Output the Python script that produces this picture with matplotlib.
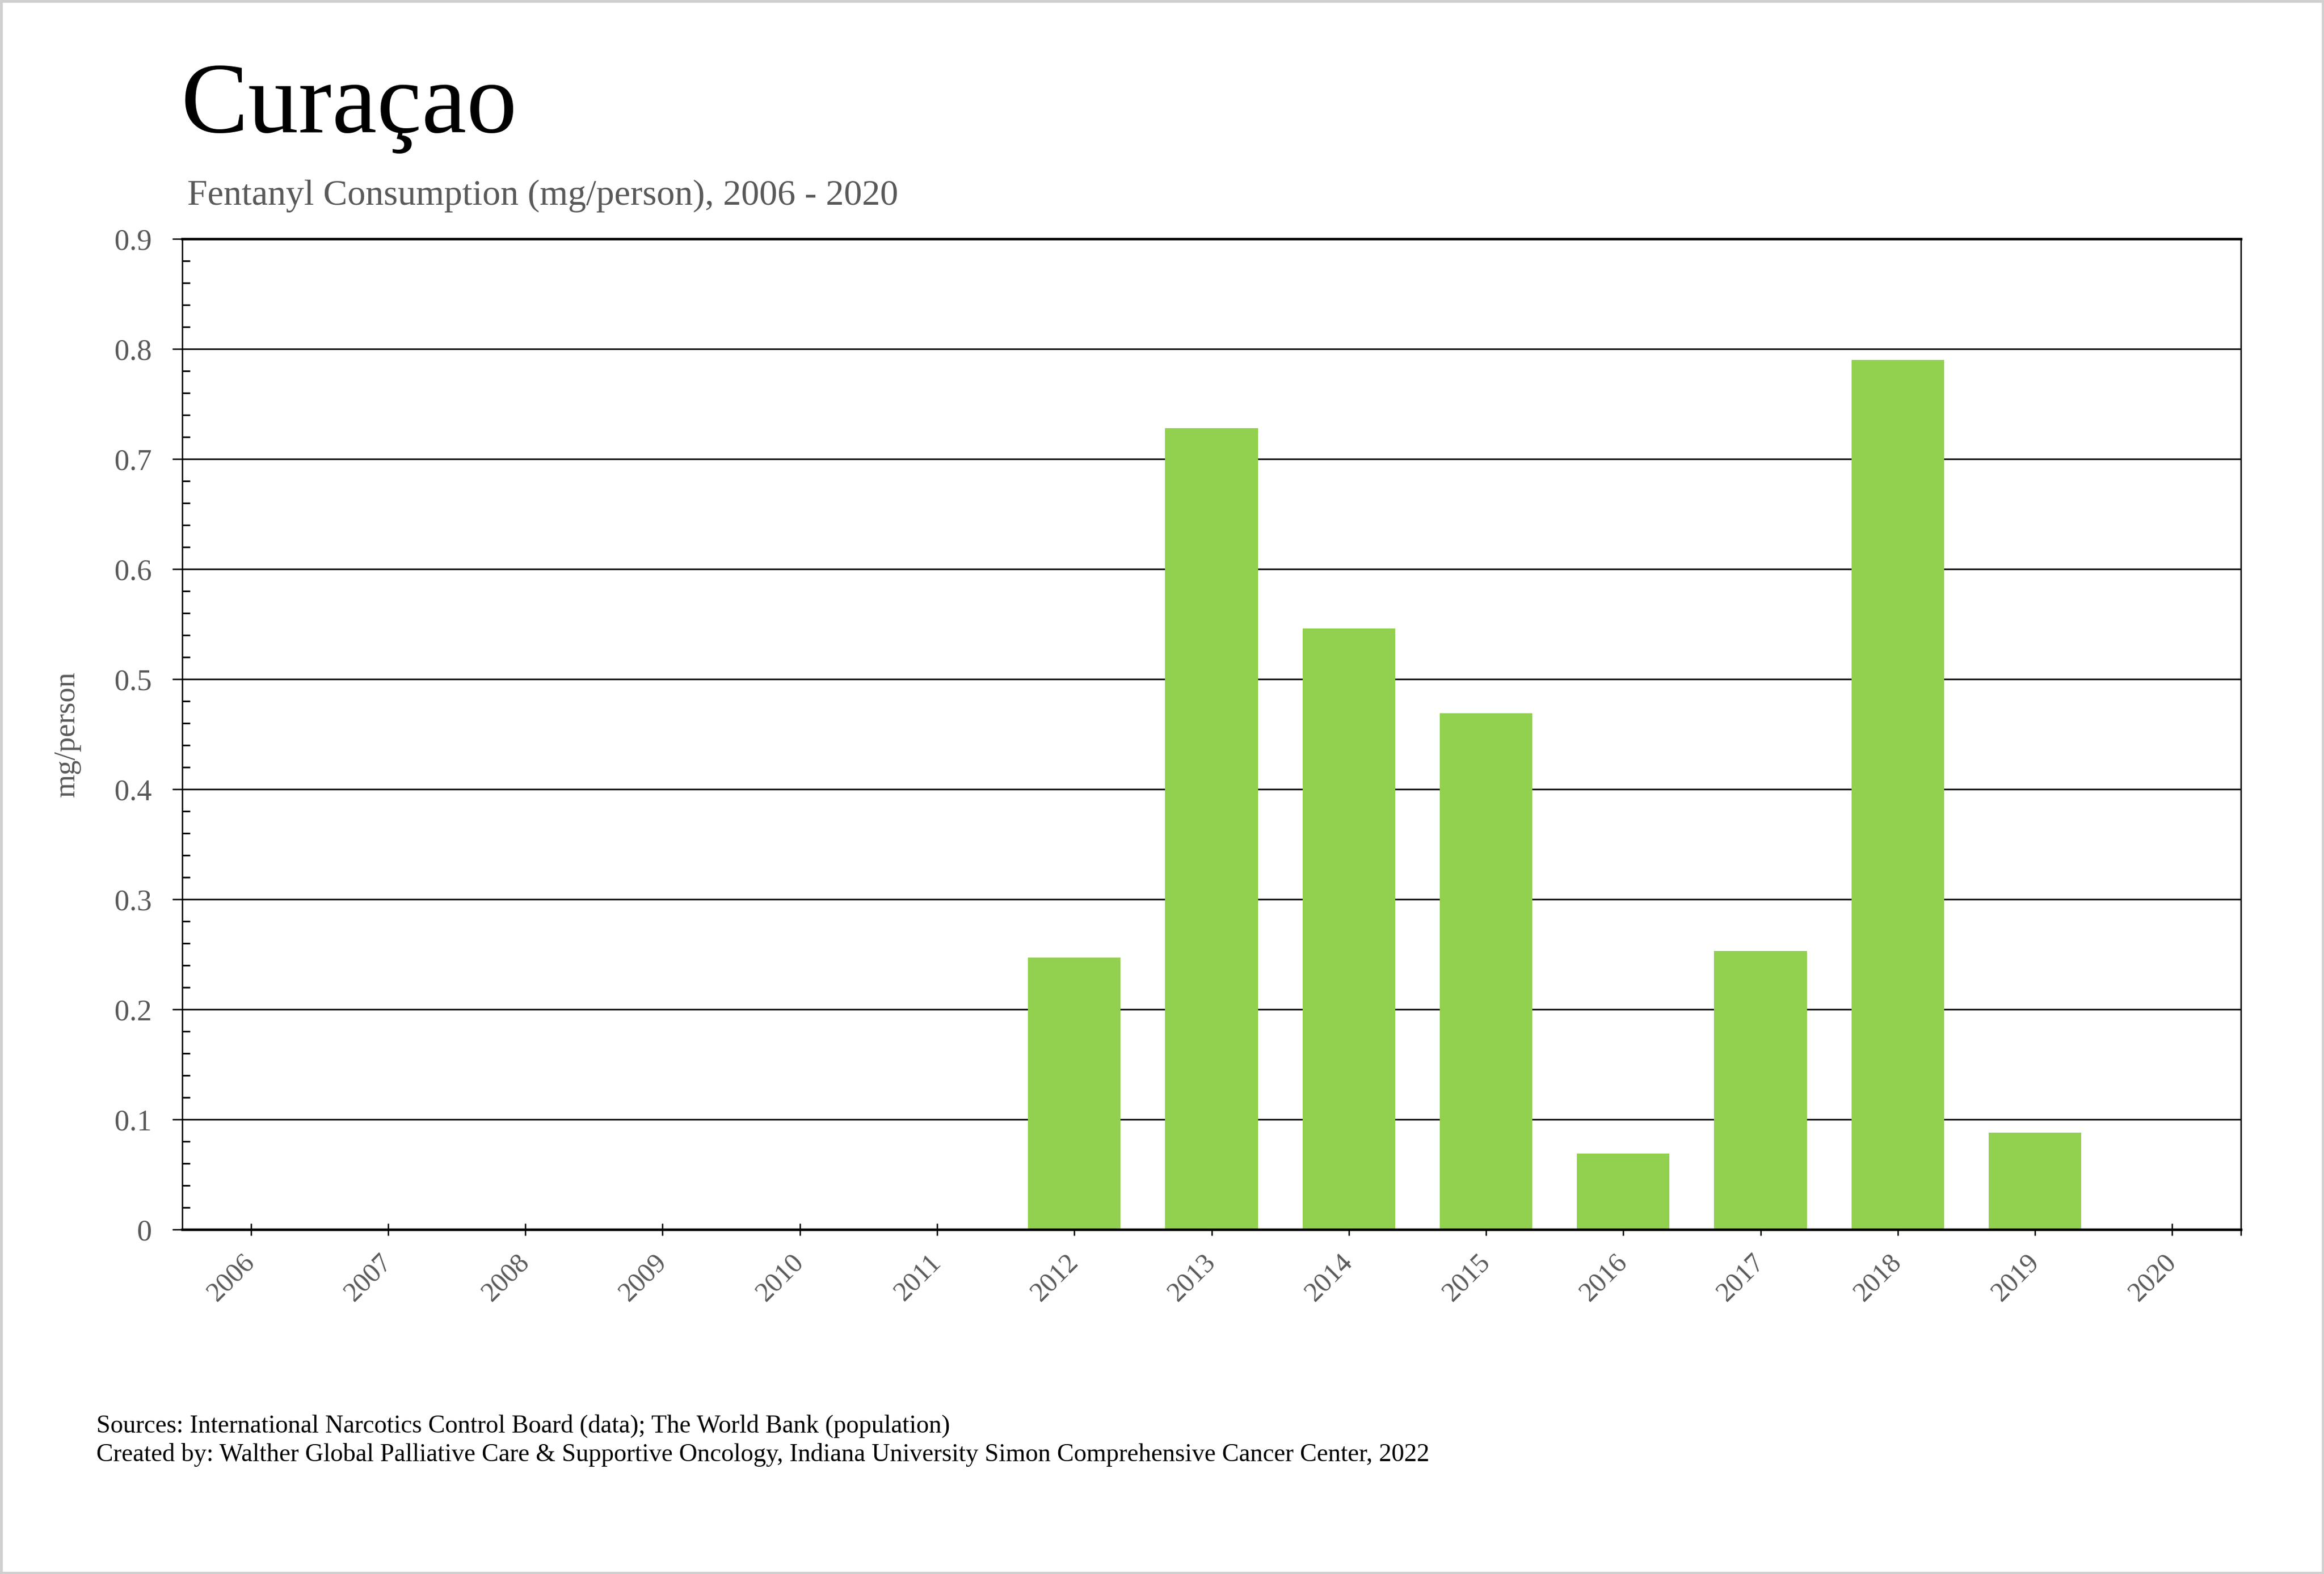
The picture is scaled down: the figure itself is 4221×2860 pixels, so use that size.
import numpy as np
import matplotlib
matplotlib.use("Agg")
import matplotlib.pyplot as plt
import matplotlib.patches as patches
from matplotlib import rcParams

rcParams['font.family'] = ['Liberation Serif', 'DejaVu Serif']

# data
years = ["2006", "2007", "2008", "2009", "2010", "2011", "2012", "2013",
         "2014", "2015", "2016", "2017", "2018", "2019", "2020"]
consumption = [0, 0, 0, 0, 0, 0, 0.247, 0.728, 0.546, 0.469, 0.069, 0.253, 0.790, 0.088, 0]
y_ticks = [0, 0.1, 0.2, 0.3, 0.4, 0.5, 0.6, 0.7, 0.8, 0.9]
y_tick_labels = ["0", "0.1", "0.2", "0.3", "0.4", "0.5", "0.6", "0.7", "0.8", "0.9"]

title = "Curaçao"
subtitle = "Fentanyl Consumption (mg/person), 2006 - 2020"
y_title = "mg/person"
footer = ["Sources: International Narcotics Control Board (data); The World Bank (population)",
          "Created by: Walther Global Palliative Care & Supportive Oncology, Indiana University Simon Comprehensive Cancer Center, 2022"]

W, H = 4221, 2860
DPI = 300
grey = '#595959'

fig = plt.figure(figsize=(W / DPI, H / DPI), dpi=DPI)
ax = fig.add_axes([331 / W, 1 - 2234 / H, (4070 - 331) / W, (2234 - 434) / H])

x = np.arange(len(years))
ax.bar(x, consumption, width=0.675, color='#92D050', zorder=2)

ax.set_xlim(-0.5, len(years) - 0.5)
ax.set_ylim(0, 0.9)

ax.set_yticks(y_ticks)
ax.set_yticklabels(y_tick_labels, fontsize=13, color=grey)
ax.set_yticks(np.arange(0, 0.9001, 0.02), minor=True)
ax.tick_params(axis='y', which='major', direction='out', length=4.3, width=0.6, pad=9)
ax.tick_params(axis='y', which='minor', direction='in', length=3.4, width=0.7)

ax.set_xticks(x)
ax.set_xticklabels(years, fontsize=12, color=grey, rotation=45, ha='right',
                   va='center', rotation_mode='anchor')
ax.set_xticks([len(years) - 0.5], minor=True)
ax.tick_params(axis='x', which='major', direction='inout', length=5.3, width=0.6, pad=10)
ax.tick_params(axis='x', which='minor', direction='out', length=2.6, width=0.6)

ax.yaxis.grid(True, which='major', color='black', linewidth=0.65)
ax.set_axisbelow(True)

for side in ['top', 'bottom']:
    ax.spines[side].set_linewidth(1.1)
for side in ['left', 'right']:
    ax.spines[side].set_linewidth(0.6)

ax.set_ylabel(y_title, fontsize=13, color=grey, va='center')
ax.yaxis.set_label_coords(-0.056, 0.5)

fig.text(329 / W, 1 - 240 / H, title, fontsize=44, va='baseline', ha='left')
fig.text(340 / W, 1 - 372 / H, subtitle, fontsize=15.8, color=grey, va='baseline', ha='left')
fig.text(175 / W, 1 - 2603 / H, footer[0], fontsize=11, va='baseline', ha='left')
fig.text(175 / W, 1 - 2655 / H, footer[1], fontsize=11, va='baseline', ha='left')

fig.patches.append(patches.Rectangle((0.0005, 0.0008), 0.999, 0.9985, transform=fig.transFigure,
                                     fill=False, edgecolor='#d0d0d0', linewidth=1.2))

fig.savefig("out.png", dpi=DPI, facecolor='white')
